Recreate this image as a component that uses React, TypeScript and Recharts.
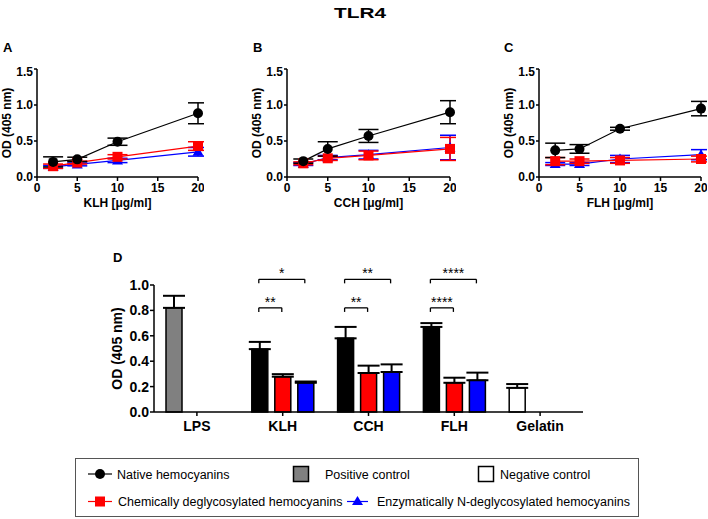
import React from 'react'
import { LineChart, Line, BarChart, Bar, XAxis, YAxis, ErrorBar, Cell, ReferenceLine } from 'recharts'

const FONT = "'Liberation Sans', Arial, Helvetica, sans-serif"

// dose-response panels (x = µg/ml)
const doses = [2, 5, 10, 20]

const klhNative = [0.21, 0.245, 0.49, 0.885]
const klhNativeSd = [0.07, 0.03, 0.05, 0.145]
const klhChem = [0.15, 0.2, 0.28, 0.43]
const klhChemSd = [0.03, 0.02, 0.03, 0.06]
const klhEnz = [0.14, 0.175, 0.23, 0.35]
const klhEnzSd = [0.02, 0.02, 0.03, 0.06]

const cchNative = [0.22, 0.39, 0.57, 0.9]
const cchNativeSd = [0.03, 0.1, 0.09, 0.16]
const cchChem = [0.19, 0.26, 0.3, 0.39]
const cchChemSd = [0.02, 0.03, 0.06, 0.16]
const cchEnz = [0.18, 0.27, 0.31, 0.41]
const cchEnzSd = [0.02, 0.03, 0.06, 0.17]

const flhNative = [0.37, 0.39, 0.67, 0.95]
const flhNativeSd = [0.1, 0.06, 0.02, 0.1]
const flhChem = [0.22, 0.22, 0.23, 0.25]
const flhChemSd = [0.05, 0.03, 0.04, 0.04]
const flhEnz = [0.18, 0.18, 0.25, 0.31]
const flhEnzSd = [0.02, 0.02, 0.05, 0.07]

const doseTicks = [0, 5, 10, 15, 20]
const odTicks = [0, 0.5, 1, 1.5]

// panel D
const barCats = ['LPS', 'KLH', 'CCH', 'FLH', 'Gelatin']
const barFirst = [0.82, 0.495, 0.58, 0.67, 0.19] // LPS / Gelatin are the controls
const barFirstSd = [0.095, 0.057, 0.09, 0.03, 0.03]
const barChem = [null, 0.278, 0.307, 0.23, null]
const barChemSd = [null, 0.02, 0.058, 0.04, null]
const barEnz = [null, 0.23, 0.315, 0.25, null]
const barEnzSd = [null, 0.01, 0.06, 0.06, null]
const barTicks = [0, 0.2, 0.4, 0.6, 0.8, 1.0]

const sigCat = [1, 1, 2, 2, 3, 3] // index into barCats
const sigTo = [2, 1, 2, 1, 2, 1] // compared bar slot (1 = chem, 2 = enz)
const sigY = [1.045, 0.82, 1.045, 0.82, 1.045, 0.82]
const sigText = ['*', '**', '**', '**', '****', '****']

const firstFill = ['#808080', '#000000', '#000000', '#000000', '#ffffff']

// bar slot centres inside a category band (barSize 16, gap 7, band ~85.8px)
const slotX = (cat: number, slot: number) => cat + (19 + 23 * slot) / 85.8

const tickStyle = { fontSize: 12, fontWeight: 'bold', fill: '#000', fontFamily: FONT }

const yTitle = (text: string, dx: number, size: number) => (props: any) => {
  const vb = props.viewBox
  const x = vb.x + dx
  const y = vb.y + vb.height / 2
  return (
    <text x={x} y={y} transform={`rotate(-90, ${x}, ${y})`} textAnchor="middle" dominantBaseline="central"
      fontSize={size} fontWeight="bold" fill="#000" fontFamily={FONT}>{text}</text>
  )
}

const xTitle = (text: string) => (props: any) => {
  const vb = props.viewBox
  return (
    <text x={vb.x + vb.width / 2} y={vb.y + 30} textAnchor="middle" fontSize={12} fontWeight="bold"
      fill="#000" fontFamily={FONT}>{text}</text>
  )
}

const circleDot = (p: any) => <circle key={`c${p.index}`} cx={p.cx} cy={p.cy} r={5} fill="#000" />
const squareDot = (p: any) => <rect key={`s${p.index}`} x={p.cx - 5} y={p.cy - 5} width={10} height={10} fill="#ff0000" />
const triDot = (p: any) => (
  <polygon key={`t${p.index}`} points={`${p.cx},${p.cy - 5.5} ${p.cx + 5.5},${p.cy + 4} ${p.cx - 5.5},${p.cy + 4}`} fill="#0000ff" />
)

type PanelProps = {
  left: number
  width: number
  label: string
  native: number[]; nativeSd: number[]
  chem: number[]; chemSd: number[]
  enz: number[]; enzSd: number[]
}

function DosePanel(p: PanelProps) {
  const rows = doses.map((d, i) => ({
    dose: d,
    native: p.native[i], nativeSd: p.nativeSd[i],
    chem: p.chem[i], chemSd: p.chemSd[i],
    enz: p.enz[i], enzSd: p.enzSd[i],
  }))
  return (
    <div style={{ position: 'absolute', left: p.left, top: 64 }}>
      <LineChart width={p.width} height={149} data={rows} margin={{ top: 5, right: 6, left: 0, bottom: 0 }}>
        <XAxis dataKey="dose" type="number" domain={[0, 20]} ticks={doseTicks} height={36}
          stroke="#000" strokeWidth={1.5} tickSize={4} tickMargin={2} tick={tickStyle}
          label={{ content: xTitle(p.label) }} />
        <YAxis domain={[0, 1.5]} ticks={odTicks} width={37} tickFormatter={(v: number) => v.toFixed(1)}
          stroke="#000" strokeWidth={1.5} tickSize={3} tickMargin={1} tick={tickStyle}
          label={{ content: yTitle('OD (405 nm)', 7, 12) }} />
        <Line dataKey="enz" stroke="#0000ff" strokeWidth={1.2} dot={triDot} isAnimationActive={false}>
          <ErrorBar dataKey="enzSd" direction="y" width={10} stroke="#0000ff" strokeWidth={1.5} isAnimationActive={false} />
        </Line>
        <Line dataKey="chem" stroke="#ff0000" strokeWidth={1.2} dot={squareDot} isAnimationActive={false}>
          <ErrorBar dataKey="chemSd" direction="y" width={10} stroke="#ff0000" strokeWidth={1.5} isAnimationActive={false} />
        </Line>
        <Line dataKey="native" stroke="#000" strokeWidth={1.2} dot={circleDot} isAnimationActive={false}>
          <ErrorBar dataKey="nativeSd" direction="y" width={10} stroke="#000" strokeWidth={1.5} isAnimationActive={false} />
        </Line>
      </LineChart>
    </div>
  )
}

function BarPanel() {
  const rows = barCats.map((c, i) => ({
    cat: c,
    pos: i + 0.5,
    first: barFirst[i], firstErr: [0, barFirstSd[i]],
    chem: barChem[i], chemErr: barChemSd[i] == null ? null : [0, barChemSd[i]],
    enz: barEnz[i], enzErr: barEnzSd[i] == null ? null : [0, barEnzSd[i]],
  }))
  const tick = 0.032
  return (
    <div style={{ position: 'absolute', left: 100, top: 250 }}>
      <BarChart width={488} height={197} data={rows} margin={{ top: 35, right: 5, left: 0, bottom: 0 }}
        barSize={16} barGap={7}>
        <XAxis dataKey="cat" height={35} stroke="#000" strokeWidth={1.5} tickSize={4} tickMargin={5}
          tick={{ ...tickStyle, fontSize: 14 }} />
        <XAxis xAxisId="n" dataKey="pos" type="number" domain={[0, 5]} allowDataOverflow hide />
        <YAxis domain={[0, 1]} ticks={barTicks} width={54} tickFormatter={(v: number) => v.toFixed(1)}
          stroke="#000" strokeWidth={1.5} tickSize={4} tickMargin={1} tick={{ ...tickStyle, fontSize: 14 }}
          label={{ content: yTitle('OD (405 nm)', 17, 14) }} />
        <Bar dataKey="first" stroke="#000" strokeWidth={1.5} isAnimationActive={false}>
          {rows.map((r, i) => <Cell key={r.cat} fill={firstFill[i]} />)}
          <ErrorBar dataKey="firstErr" direction="y" width={11} stroke="#000" strokeWidth={2} isAnimationActive={false} />
        </Bar>
        <Bar dataKey="chem" fill="#ff0000" stroke="#000" strokeWidth={1.5} isAnimationActive={false}>
          <ErrorBar dataKey="chemErr" direction="y" width={11} stroke="#000" strokeWidth={2} isAnimationActive={false} />
        </Bar>
        <Bar dataKey="enz" fill="#0000ff" stroke="#000" strokeWidth={1.5} isAnimationActive={false}>
          <ErrorBar dataKey="enzErr" direction="y" width={11} stroke="#000" strokeWidth={2} isAnimationActive={false} />
        </Bar>
        {sigCat.map((c, i) => {
          const x1 = slotX(c, 0)
          const x2 = slotX(c, sigTo[i])
          const y = sigY[i]
          return [
            <ReferenceLine key={`h${i}`} xAxisId="n" ifOverflow="visible" stroke="#000" strokeWidth={1.3}
              segment={[{ x: x1, y }, { x: x2, y }]}
              label={{ value: sigText[i], position: 'top', offset: 1, fontSize: 14, fill: '#000', fontFamily: FONT }} />,
            <ReferenceLine key={`l${i}`} xAxisId="n" ifOverflow="visible" stroke="#000" strokeWidth={1.3}
              segment={[{ x: x1, y }, { x: x1, y: y - tick }]} />,
            <ReferenceLine key={`r${i}`} xAxisId="n" ifOverflow="visible" stroke="#000" strokeWidth={1.3}
              segment={[{ x: x2, y }, { x: x2, y: y - tick }]} />,
          ]
        })}
      </BarChart>
    </div>
  )
}

export default function App() {
  const legendText = { fontSize: 12.5, fill: '#000', fontFamily: FONT }
  return (
    <div style={{ position: 'absolute', left: 0, top: 0, width: 708, height: 519, background: '#fff', fontFamily: FONT }}>
      <DosePanel left={0} width={204} label="KLH [μg/ml]"
        native={klhNative} nativeSd={klhNativeSd} chem={klhChem} chemSd={klhChemSd} enz={klhEnz} enzSd={klhEnzSd} />
      <DosePanel left={250} width={206} label="CCH [μg/ml]"
        native={cchNative} nativeSd={cchNativeSd} chem={cchChem} chemSd={cchChemSd} enz={cchEnz} enzSd={cchEnzSd} />
      <DosePanel left={502} width={205} label="FLH [μg/ml]"
        native={flhNative} nativeSd={flhNativeSd} chem={flhChem} chemSd={flhChemSd} enz={flhEnz} enzSd={flhEnzSd} />
      <BarPanel />

      <svg width={708} height={519} style={{ position: 'absolute', left: 0, top: 0, pointerEvents: 'none' }}>
        <text x={334} y={17.5} fontSize={15} fontWeight="bold" textLength={52} lengthAdjust="spacingAndGlyphs" fontFamily={FONT}>TLR4</text>
        <text x={3} y={52} fontSize={13} fontWeight="bold" fontFamily={FONT}>A</text>
        <text x={253} y={52} fontSize={13} fontWeight="bold" fontFamily={FONT}>B</text>
        <text x={504} y={52} fontSize={13} fontWeight="bold" fontFamily={FONT}>C</text>
        <text x={113} y={262} fontSize={13} fontWeight="bold" fontFamily={FONT}>D</text>

        {/* legend */}
        <rect x={75.5} y={458.5} width={563} height={58} fill="#fff" stroke="#555" strokeWidth={1} />
        <line x1={88} x2={112} y1={474} y2={474} stroke="#000" strokeWidth={1.2} />
        <circle cx={100} cy={474} r={5} fill="#000" />
        <text x={117} y={478.5} {...legendText}>Native hemocyanins</text>
        <rect x={293.5} y={466.5} width={15} height={15} fill="#808080" stroke="#000" strokeWidth={1.5} />
        <text x={325} y={478.5} {...legendText}>Positive control</text>
        <rect x={478.5} y={466.5} width={15} height={15} fill="#fff" stroke="#000" strokeWidth={1.5} />
        <text x={500} y={478.5} {...legendText}>Negative control</text>

        <line x1={88} x2={112} y1={501.5} y2={501.5} stroke="#ff0000" strokeWidth={1.2} />
        <rect x={95} y={496.5} width={10} height={10} fill="#ff0000" />
        <text x={118} y={506} {...legendText}>Chemically deglycosylated hemocyanins</text>
        <line x1={347} x2={368} y1={501.5} y2={501.5} stroke="#0000ff" strokeWidth={1.2} />
        <polygon points="357.5,496 363,505 352,505" fill="#0000ff" />
        <text x={377} y={506} {...legendText}>Enzymatically N-deglycosylated hemocyanins</text>
      </svg>
    </div>
  )
}
